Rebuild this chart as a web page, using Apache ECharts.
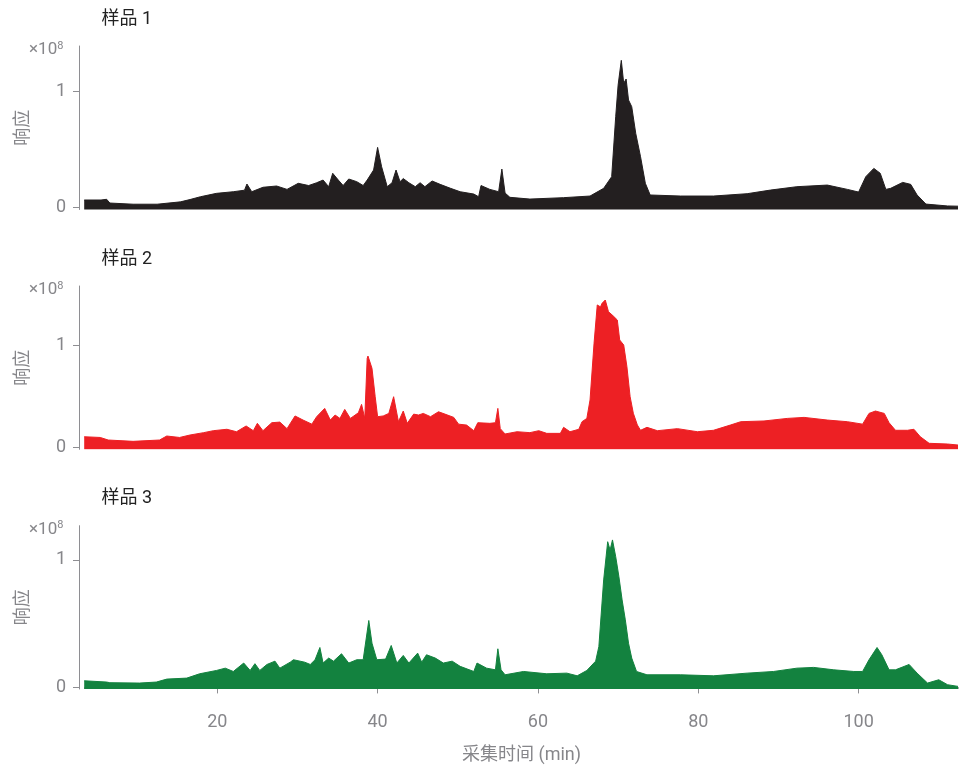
<!DOCTYPE html>
<html>
<head>
<meta charset="utf-8">
<script src="https://cdn.jsdelivr.net/npm/echarts@6/dist/echarts.min.js"></script>
<style>html,body{margin:0;padding:0;background:#fff}#c{width:971px;height:765px}</style>
</head>
<body>
<div id="c"></div>
<script>
// Sample names
const sampleNames = ['样品 1', '样品 2', '样品 3'];
// x-axis tick labels (min)
const xTicks = [20, 40, 60, 80, 100];
const yTicks = [0, 1];

// Sample 1: retention time (min) and response (x1e8)
const time1 = [3.4,5.5,6.2,6.6,9.5,12.5,15.4,16.6,17.9,19.9,22,23.4,23.7,24.3,25.7,27.4,28.7,30.1,31.4,32.4,33.2,33.9,34.4,35.1,35.7,36.4,37.4,38.2,38.7,39.5,40.0,40.5,41.2,41.8,42.3,42.8,43.2,43.9,44.7,45.3,45.9,46.8,47.8,49.1,50.3,52.0,52.6,52.9,54.0,55.1,55.5,55.9,56.5,59,63.2,66.5,68.2,69.2,69.7,70.0,70.4,70.7,71.0,71.3,71.7,72.2,72.8,73.4,74.0,77.8,81.9,86.1,89,92.3,96.1,98.6,100,100.9,101.9,102.7,103.4,104,105.5,106.5,107.3,108.4,111.1,112.4];
const resp1 = [0.066,0.066,0.072,0.04,0.03,0.03,0.05,0.07,0.094,0.123,0.137,0.15,0.203,0.137,0.175,0.186,0.157,0.209,0.19,0.214,0.237,0.18,0.295,0.237,0.19,0.246,0.223,0.19,0.237,0.323,0.517,0.351,0.18,0.214,0.323,0.223,0.25,0.214,0.18,0.214,0.18,0.229,0.2,0.166,0.137,0.117,0.094,0.19,0.157,0.137,0.331,0.126,0.089,0.074,0.086,0.1,0.166,0.266,0.78,1.05,1.263,1.066,1.103,0.923,0.866,0.637,0.437,0.209,0.109,0.1,0.1,0.12,0.151,0.18,0.194,0.157,0.134,0.266,0.337,0.295,0.157,0.166,0.217,0.2,0.109,0.031,0.015,0.013];

// Sample 2
const time2 = [3.4,5.4,6.4,9.5,12.8,13.7,15.3,16.6,18.3,19.5,21.2,22.4,23.6,24.5,25.0,25.7,26.8,27.8,28.7,29.7,30.7,31.8,32.4,33.4,34.1,34.7,35.3,35.9,36.6,37.6,38.0,38.4,38.7,38.8,39.3,39.7,40.0,40.7,41.4,42.0,42.6,43.2,43.7,44.5,45.1,45.7,46.6,47.6,48.4,49.5,50.1,51.1,52.0,52.5,54.0,54.7,55.0,55.3,55.9,57.4,59,60.1,61.1,62.8,63.2,64,65.1,65.5,66.1,66.5,67.0,67.4,67.8,68.0,68.4,68.8,69.4,69.9,70.2,70.7,71.1,71.5,71.9,72.4,72.8,73.6,74.9,77.4,79.9,81.9,84,85.3,88.2,91.1,93.2,96.1,98.6,100.5,101.3,102.1,103.2,103.8,104.6,106.1,106.9,107.7,108.8,111.1,112.4];
const resp2 = [0.107,0.1,0.075,0.062,0.075,0.114,0.1,0.124,0.147,0.166,0.18,0.156,0.212,0.166,0.238,0.166,0.244,0.25,0.186,0.31,0.27,0.23,0.303,0.384,0.27,0.319,0.286,0.374,0.286,0.341,0.423,0.286,0.873,0.895,0.775,0.498,0.303,0.31,0.335,0.498,0.254,0.358,0.238,0.328,0.319,0.335,0.303,0.351,0.328,0.296,0.23,0.221,0.166,0.244,0.238,0.244,0.384,0.186,0.134,0.156,0.147,0.166,0.14,0.14,0.199,0.156,0.18,0.254,0.286,0.466,1.02,1.394,1.375,1.41,1.442,1.328,1.286,1.247,1.052,1.003,0.791,0.498,0.336,0.222,0.17,0.199,0.166,0.186,0.156,0.17,0.221,0.254,0.261,0.286,0.296,0.27,0.254,0.23,0.335,0.358,0.335,0.244,0.17,0.17,0.18,0.107,0.043,0.036,0.026];

// Sample 3
const time3 = [3.4,6.2,6.6,10.3,12.4,13.7,16.2,17.8,19.9,21,22,23.3,24.1,24.7,25.3,26.2,27.2,27.8,29.1,29.5,30.9,31.6,32.2,32.8,33.2,33.9,34.5,35.5,36.4,37.4,38.2,38.9,39.3,39.9,41,41.7,42.4,43.2,43.9,45.0,45.5,46.1,47.2,48.2,49.3,50.3,52.0,52.4,53.6,54.7,55.0,55.4,55.9,58.2,61.1,63.6,64.9,66.1,67.2,67.6,68.2,68.7,69.0,69.3,69.7,70.1,70.5,70.9,71.3,71.7,72.3,73.6,77.8,81.9,86.1,89.4,92.3,94.4,96.9,99.4,100.5,101.3,102.3,102.9,103.8,104.6,106.3,107.3,108.6,110.0,111.1,112.4];
const resp3 = [0.052,0.042,0.037,0.034,0.042,0.065,0.073,0.107,0.133,0.151,0.125,0.191,0.133,0.186,0.133,0.18,0.206,0.151,0.198,0.217,0.198,0.18,0.217,0.313,0.191,0.23,0.206,0.264,0.191,0.217,0.217,0.525,0.347,0.217,0.222,0.329,0.191,0.251,0.191,0.269,0.198,0.256,0.23,0.191,0.206,0.165,0.125,0.191,0.151,0.138,0.303,0.138,0.099,0.125,0.107,0.112,0.091,0.133,0.206,0.321,0.843,1.143,1.078,1.157,1.026,0.869,0.687,0.53,0.347,0.23,0.125,0.099,0.099,0.091,0.112,0.125,0.151,0.157,0.138,0.125,0.125,0.217,0.313,0.256,0.138,0.138,0.18,0.112,0.034,0.06,0.021,0.008];

const times = [time1, time2, time3];
const resps = [resp1, resp2, resp3];
const colors = ['#231f20', '#ed2024', '#13823f'];

const GRAY = '#86868a';
const FONT = 'Roboto, "Noto Sans CJK SC", sans-serif';
const grids = [
  {top: 46, height: 163.5, yMin: -0.0154, yMax: 1.386},
  {top: 286, height: 163.3, yMin: -0.0156, yMax: 1.579},
  {top: 525.7, height: 163.6, yMin: -0.0125, yMax: 1.2686}
];
const titleY = [19, 259, 498];

const chart = echarts.init(document.getElementById('c'), null, {renderer: 'canvas'});
const option = {
  animation: false,
  backgroundColor: '#fff',
  textStyle: {fontFamily: FONT},
  grid: grids.map(g => ({left: 85, right: 13, top: g.top, height: g.height})),
  xAxis: grids.map((g, i) => ({
    type: 'value', gridIndex: i, min: 3.5, max: 112.4,
    show: i === 2,
    offset: 12,
    name: i === 2 ? '采集时间 (min)' : '',
    nameLocation: 'middle', nameGap: 45,
    nameTextStyle: {color: GRAY, fontSize: 18, fontFamily: FONT},
    axisLine: {show: true, lineStyle: {color: '#8e8e92', width: 2}},
    axisTick: {show: true, length: 6, customValues: xTicks, lineStyle: {color: '#8e8e92', width: 1}},
    axisLabel: {show: true, customValues: xTicks, color: GRAY, fontSize: 18, margin: 12, fontFamily: FONT},
    splitLine: {show: false}
  })),
  yAxis: grids.map((g, i) => ({
    type: 'value', gridIndex: i, min: g.yMin, max: g.yMax,
    offset: 6,
    name: '响应', nameLocation: 'middle', nameRotate: 90, nameGap: 47,
    nameTextStyle: {color: GRAY, fontSize: 18, fontFamily: FONT},
    axisLine: {show: true, lineStyle: {color: '#8e8e92', width: 1}},
    axisTick: {show: true, length: 6, customValues: yTicks, lineStyle: {color: '#8e8e92', width: 1}},
    axisLabel: {show: true, customValues: yTicks, color: GRAY, fontSize: 18, margin: 13, fontFamily: FONT},
    splitLine: {show: false}
  })),
  series: times.map((t, i) => ({
    type: 'line', xAxisIndex: i, yAxisIndex: i,
    data: t.map((x, k) => [x, resps[i][k]]),
    showSymbol: false, symbol: 'none',
    lineStyle: {color: colors[i], width: 1},
    areaStyle: {color: colors[i], opacity: 1, origin: 'start'},
    silent: true
  })),
  graphic: [].concat(
    sampleNames.map((n, i) => ({
      type: 'text', x: 101.5, y: titleY[i],
      style: {text: n, fill: '#222', font: '18px ' + FONT, verticalAlign: 'middle', align: 'left'}
    })),
    grids.map((g, i) => ({
      type: 'text', x: 29, y: g.top + 3.5,
      style: {
        text: '{a|×10}{b|8}', verticalAlign: 'middle', align: 'left',
        rich: {
          a: {fontSize: 17, fontFamily: FONT, fill: GRAY, color: GRAY, lineHeight: 18, verticalAlign: 'bottom'},
          b: {fontSize: 11, fontFamily: FONT, fill: GRAY, color: GRAY, lineHeight: 11, verticalAlign: 'top'}
        }
      }
    }))
  )
};
chart.setOption(option);
</script>
</body>
</html>
